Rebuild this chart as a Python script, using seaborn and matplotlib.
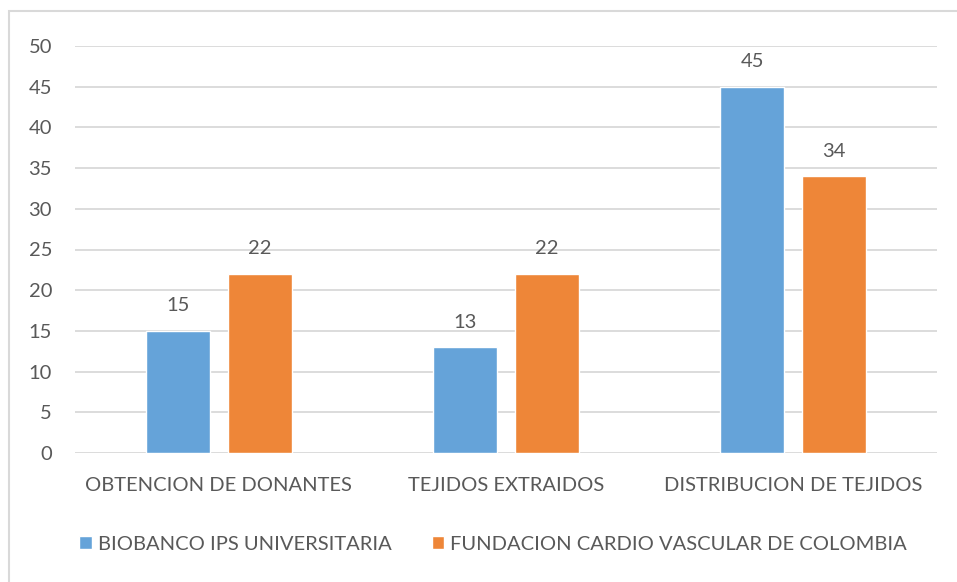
import matplotlib
matplotlib.use("Agg")
import matplotlib.pyplot as plt
import matplotlib.patches as mpatches
import seaborn as sns
import pandas as pd

categories = ["OBTENCION DE DONANTES", "TEJIDOS EXTRAIDOS", "DISTRIBUCION DE TEJIDOS"]
series_names = ["BIOBANCO IPS UNIVERSITARIA", "FUNDACION CARDIO VASCULAR DE COLOMBIA"]
biobanco = [15, 13, 45]
fundacion = [22, 22, 34]
yticks = [0, 5, 10, 15, 20, 25, 30, 35, 40, 45, 50]

colors = ["#65A3D9", "#EE8638"]
text_color = "#595959"

df = pd.DataFrame({
    "cat": categories * 2,
    "serie": [series_names[0]] * 3 + [series_names[1]] * 3,
    "val": biobanco + fundacion,
})

sns.set_theme(style="white")
plt.rcParams["font.family"] = ["Lato", "DejaVu Sans"]
fs = 14.5

fig = plt.figure(figsize=(9.57, 5.82), dpi=100)
ax = fig.add_axes([75 / 957, 1 - 453 / 582, (937 - 75) / 957, (453 - 46) / 582])

sns.barplot(data=df, x="cat", y="val", hue="serie", palette=colors,
            width=0.571, gap=0.22, ax=ax, legend=True, saturation=1)

ax.set_ylim(0, 50)
ax.set_xlim(-0.5, 2.5)
ax.set_yticks(yticks)
ax.yaxis.grid(True, color="#d9d9d9", linewidth=1.3)
ax.set_axisbelow(True)
for s in ax.spines.values():
    s.set_visible(False)
ax.set_xlabel("")
ax.set_ylabel("")
ax.tick_params(axis="both", length=0, labelsize=fs, colors=text_color)
ax.tick_params(axis="y", pad=16.5)
ax.tick_params(axis="x", pad=17)

for cont in ax.containers:
    ax.bar_label(cont, fmt="%d", padding=12, fontsize=fs, color=text_color)

handles, labels = ax.get_legend_handles_labels()
ax.legend_.remove()
fig.legend(handles, labels, loc="center", bbox_to_anchor=(493 / 957, 1 - 544 / 582),
           ncol=2, frameon=False, fontsize=fs, labelcolor=text_color,
           handlelength=0.6, handleheight=0.6, handletextpad=0.3, columnspacing=2.0)

border = mpatches.Rectangle((9 / 957, -0.1), 1.2, 1 - 11 / 582 + 0.1,
                            transform=fig.transFigure, fill=False,
                            edgecolor="#d9d9d9", linewidth=1.5, clip_on=False)
fig.patches.append(border)

fig.savefig("out.png", dpi=100)
